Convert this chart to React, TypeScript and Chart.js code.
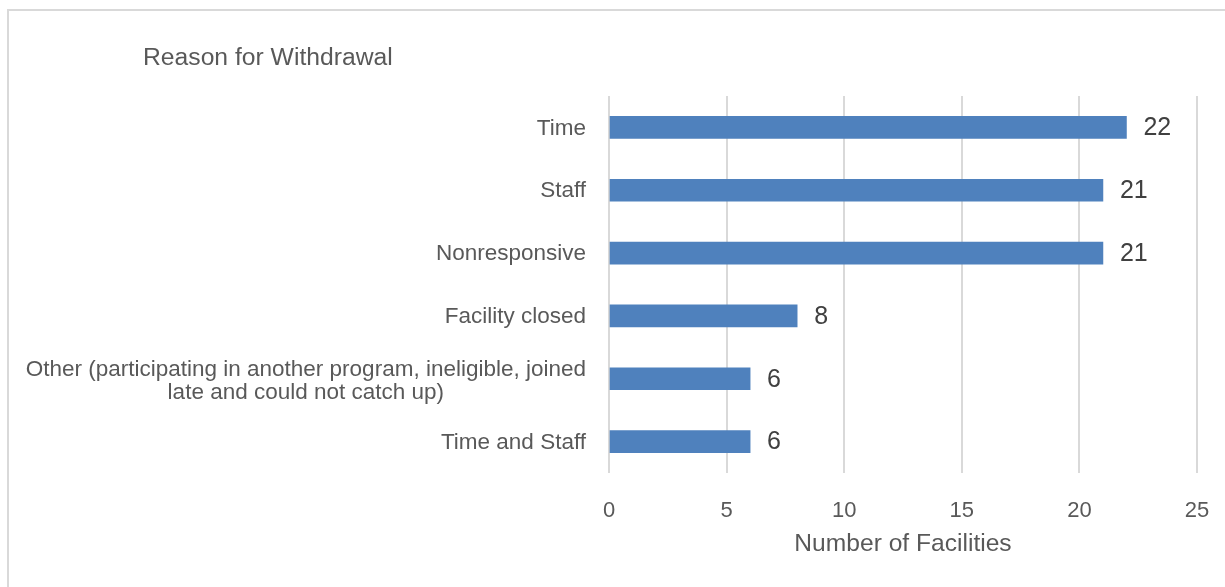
import React, { useEffect, useRef } from "react";
import { Chart, registerables } from "chart.js";

Chart.register(...registerables);

const chartTitle = "Reason for Withdrawal";
const axisTitle = "Number of Facilities";
const categories: (string | string[])[] = [
  "Time",
  "Staff",
  "Nonresponsive",
  "Facility closed",
  ["Other (participating in another program, ineligible, joined", "late and could not catch up)"],
  "Time and Staff",
];
const facilities = [22, 21, 21, 8, 6, 6];
const xMin = 0;
const xMax = 25;
const xStep = 5;

const FONT = "'Liberation Sans', Arial, sans-serif";
const TEXT = "#595959";
const GRID = "#d9d9d9";
const CAT_FONT_SIZE = 22.5;
const CAT_LINE_HEIGHT = 23;

const framePlugin = {
  id: "frame",
  beforeDraw(chart: any) {
    const { ctx, width, height } = chart;
    ctx.save();
    ctx.fillStyle = "#ffffff";
    ctx.fillRect(0, 0, width, height);
    ctx.strokeStyle = GRID;
    ctx.lineWidth = 2;
    ctx.beginPath();
    ctx.moveTo(8, height);
    ctx.lineTo(8, 10);
    ctx.lineTo(width, 10);
    ctx.stroke();
    ctx.fillStyle = TEXT;
    ctx.font = `24.7px ${FONT}`;
    ctx.textAlign = "left";
    ctx.textBaseline = "middle";
    ctx.fillText(chartTitle, 143, 58);
    ctx.restore();
  },
};

// Category labels: block right-aligned to the axis, lines centred within the block
const categoryLabelPlugin = {
  id: "categoryLabels",
  afterDraw(chart: any) {
    const { ctx } = chart;
    const yScale = chart.scales.y;
    const right = chart.chartArea.left - 23;
    ctx.save();
    ctx.fillStyle = TEXT;
    ctx.font = `${CAT_FONT_SIZE}px ${FONT}`;
    ctx.textAlign = "center";
    ctx.textBaseline = "middle";
    categories.forEach((label, i) => {
      const lines = Array.isArray(label) ? label : [label];
      const blockW = Math.max(...lines.map((l) => ctx.measureText(l).width));
      const cx = right - blockW / 2;
      const extra = lines.length > 1 ? 3 : 1;
      const cy = yScale.getPixelForTick(i) + extra;
      const startY = cy - ((lines.length - 1) * CAT_LINE_HEIGHT) / 2;
      lines.forEach((l, j) => {
        ctx.fillText(l, cx, startY + j * CAT_LINE_HEIGHT);
      });
    });
    ctx.restore();
  },
};

const valueLabelPlugin = {
  id: "valueLabels",
  afterDatasetsDraw(chart: any) {
    const { ctx } = chart;
    const meta = chart.getDatasetMeta(0);
    const data = chart.data.datasets[0].data;
    ctx.save();
    ctx.fillStyle = "#404040";
    ctx.font = `25px ${FONT}`;
    ctx.textAlign = "left";
    ctx.textBaseline = "middle";
    meta.data.forEach((bar: any, i: number) => {
      ctx.fillText(String(data[i]), bar.x + 17, bar.y + 1);
    });
    ctx.restore();
  },
};

export default function App() {
  const ref = useRef<HTMLCanvasElement | null>(null);
  useEffect(() => {
    if (!ref.current) return;
    const chart = new Chart(ref.current, {
      type: "bar",
      data: {
        labels: categories,
        datasets: [
          {
            data: facilities,
            backgroundColor: "#4f81bd",
            borderWidth: 0,
            barThickness: 22,
          },
        ],
      },
      options: {
        indexAxis: "y",
        animation: false,
        responsive: false,
        maintainAspectRatio: false,
        layout: { padding: { top: 96, right: 28, left: 0, bottom: 0 } },
        plugins: {
          legend: { display: false },
          title: { display: false },
          tooltip: { enabled: false },
        },
        scales: {
          x: {
            min: xMin,
            max: xMax,
            grid: { color: GRID, lineWidth: 2, drawTicks: false },
            border: { display: false },
            ticks: {
              stepSize: xStep,
              padding: 25,
              color: TEXT,
              font: { family: FONT, size: 22 },
            },
            title: {
              display: true,
              text: axisTitle,
              color: TEXT,
              font: { family: FONT, size: 24.6 },
              padding: { top: 0, bottom: 28 },
            },
            afterFit(scale: any) {
              scale.height = 114;
              scale.paddingLeft = 0;
              scale.paddingRight = 0;
            },
          },
          y: {
            grid: { display: false, drawTicks: false },
            border: { display: false },
            ticks: {
              padding: 23,
              color: "rgba(0,0,0,0)",
              font: { family: FONT, size: CAT_FONT_SIZE, lineHeight: 1.05 },
            },
            afterFit(scale: any) {
              scale.width = 609;
              scale.paddingTop = 0;
              scale.paddingBottom = 0;
            },
          },
        },
      },
      plugins: [framePlugin, valueLabelPlugin, categoryLabelPlugin],
    });
    return () => chart.destroy();
  }, []);
  return (
    <div style={{ position: "fixed", left: 0, top: 0, width: 1225, height: 587 }}>
      <canvas ref={ref} width={1225} height={587} />
    </div>
  );
}
